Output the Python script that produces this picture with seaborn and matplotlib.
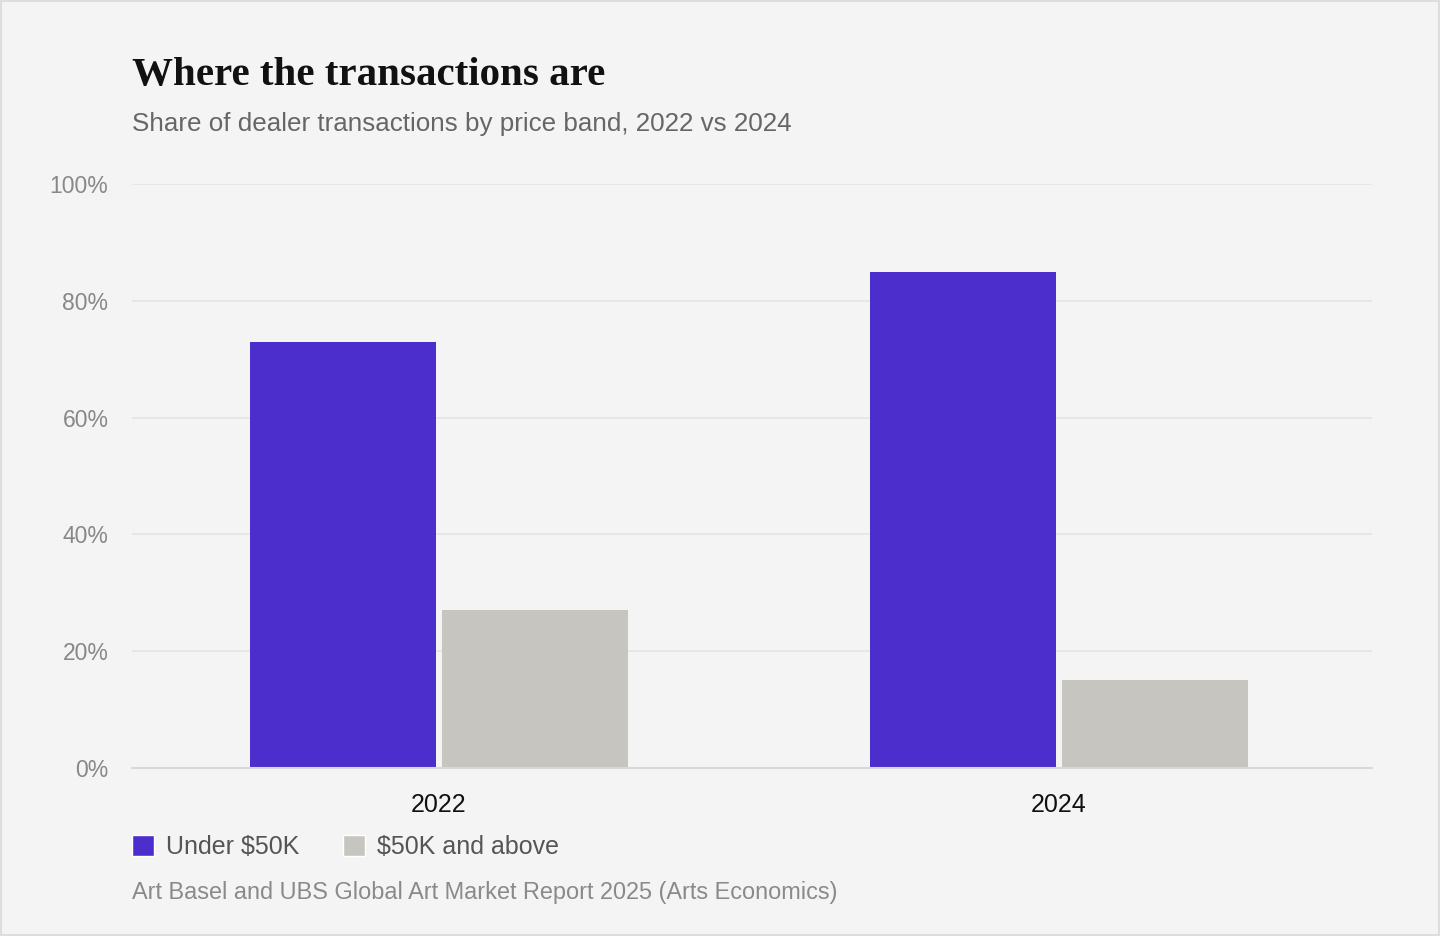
import pandas as pd
import matplotlib.pyplot as plt
import seaborn as sns
from matplotlib.patches import Patch, Rectangle

# Data
years = ["2022", "2024"]
bands = ["Under $50K", "$50K and above"]
under_50k = [73, 85]
above_50k = [27, 15]
y_ticks = [0, 20, 40, 60, 80, 100]
y_labels = ["0%", "20%", "40%", "60%", "80%", "100%"]

purple = "#4b2ecb"
stone = "#c6c5c0"
bg = "#f4f4f4"

df = pd.DataFrame({
    "year": years * 2,
    "band": [bands[0]] * len(years) + [bands[1]] * len(years),
    "share": under_50k + above_50k,
})

sns.set_theme(style="white")
plt.rcParams["font.family"] = ["Liberation Sans", "DejaVu Sans"]

fig = plt.figure(figsize=(14.4, 9.36), dpi=100, facecolor=bg)
ax = fig.add_axes([132 / 1440, 168 / 936, 1240 / 1440, 584 / 936])
ax.set_facecolor(bg)

sns.barplot(data=df, x="year", y="share", hue="band", hue_order=bands,
            palette=[purple, stone], width=0.62, gap=0.031, saturation=1,
            linewidth=0, legend=False, ax=ax)

ax.set_xlim(-0.495, 1.505)
ax.set_ylim(0, 100)
ax.set_yticks(y_ticks)
ax.set_yticklabels(y_labels)
ax.yaxis.grid(True, color="#e4e4e4", linewidth=1.2)
ax.set_axisbelow(True)
for s in ["top", "right", "left"]:
    ax.spines[s].set_visible(False)
ax.spines["bottom"].set_color("#d8d8d8")
ax.spines["bottom"].set_linewidth(1.5)
ax.tick_params(axis="y", length=0, pad=17, labelsize=16.5, labelcolor="#888888")
ax.tick_params(axis="x", length=0, pad=18, labelsize=18, labelcolor="#111111")
ax.set_xlabel("")
ax.set_ylabel("")

fig.text(132 / 1440, 1 - 76 / 936, "Where the transactions are",
         family=["Liberation Serif", "DejaVu Serif"], weight="bold",
         fontsize=29.5, color="#111111", va="center")
fig.text(132 / 1440, 1 - 124 / 936, "Share of dealer transactions by price band, 2022 vs 2024",
         fontsize=18.7, color="#666666", va="center")

handles = [Patch(facecolor=purple), Patch(facecolor=stone)]
fig.legend(handles, bands, loc="center left", bbox_to_anchor=(132 / 1440, 1 - 847 / 936),
           ncol=2, frameon=False, fontsize=18, labelcolor="#555555",
           borderpad=0, borderaxespad=0,
           handlelength=0.88, handleheight=0.88, handletextpad=0.48, columnspacing=1.76)

fig.text(132 / 1440, 1 - 892 / 936, "Art Basel and UBS Global Art Market Report 2025 (Arts Economics)",
         fontsize=16.9, color="#8a8a8a", va="center")

fig.patches.append(Rectangle((0.0005, 0.0008), 0.999, 0.9985, transform=fig.transFigure,
                             fill=False, edgecolor="#dddddd", linewidth=1.5))

fig.savefig("out.png", dpi=100, facecolor=bg)
